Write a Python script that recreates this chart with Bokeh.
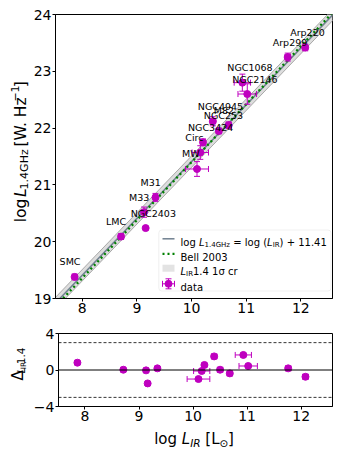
import math
import numpy as np
from bokeh.plotting import figure
from bokeh.layouts import column, row
from bokeh.models import BoxAnnotation, Span, Range1d
from bokeh.embed import file_html
from bokeh.resources import INLINE
from bokeh.core.properties import value

# ---------------- data ----------------
names = ["SMC", "LMC", "M33", "NGC2403", "M31", "MW", "Circ", "NGC3424",
         "NGC4945", "NGC253", "M82", "NGC1068", "NGC2146", "Arp299", "Arp220"]
log_lir = [7.86, 8.71, 9.13, 9.16, 9.34, 10.10, 10.16, 10.21,
           10.39, 10.50, 10.68, 10.93, 11.02, 11.76, 12.08]
log_l14 = [19.38, 20.09, 20.52, 20.24, 20.78, 21.28, 21.57, 21.75,
           22.12, 21.95, 22.05, 22.80, 22.60, 23.25, 23.42]
lir_err = [0.04, 0.04, 0.04, 0.03, 0.04, 0.21, 0.15, 0.04,
           0.05, 0.05, 0.05, 0.15, 0.17, 0.05, 0.05]
l14_err = [0.05, 0.05, 0.09, 0.03, 0.07, 0.13, 0.12, 0.06,
           0.08, 0.05, 0.06, 0.15, 0.18, 0.07, 0.06]
delta = [0.80, 0.03, -0.04, -1.47, 0.18, -0.99, -0.11, 0.55,
         1.49, 0.03, -0.37, 1.65, 0.44, 0.18, -0.74]
delta_err = [0.2] * 15

fit_offset = 11.41
bell_slope = 1.02
bell_pivot = (10.0, 21.40)
band_sigma = 0.10
xticks = [8, 9, 10, 11, 12]
yticks_top = [19, 20, 21, 22, 23, 24]
yticks_bot = [-4, 0, 4]
crit_level = 3

MAG = "#bf00bf"
FONT = "DejaVu Sans"

# ---------------- geometry (page pixels) ----------------
LW = 30            # width of the y-label strips
BL, BR = 25, 1     # plot borders (left border is after the label strip)
FW = 277
H1, BT1, BB1 = 322, 14, 24
H2, BT2, BB2 = 105, 11, 21
HX = 24
X0, X1 = 7.51, 12.58
YT0, YT1 = 19, 24
YB0, YB1 = -4, 4
FL = LW + BL                  # frame left on page
FH1 = H1 - BT1 - BB1


def fx(px):
    return X0 + (px - FL) / FW * (X1 - X0)


def ty(py):
    return YT1 - (py - BT1) / FH1 * (YT1 - YT0)


CW = {' ': 0.318, '(': 0.390, ')': 0.390, '+': 0.838, '.': 0.318, '=': 0.838,
      '[': 0.390, ']': 0.390, '\u2212': 0.838, '\u0394': 0.684, '\u03c3': 0.634,
      '\u2299': 0.80, 'A': 0.684, 'B': 0.686, 'C': 0.698, 'G': 0.775, 'H': 0.752,
      'I': 0.295, 'L': 0.557, 'M': 0.863, 'N': 0.748, 'R': 0.695, 'S': 0.635,
      'W': 0.989, 'a': 0.613, 'c': 0.550, 'd': 0.635, 'e': 0.615, 'g': 0.635,
      'i': 0.278, 'l': 0.278, 'o': 0.612, 'r': 0.411, 't': 0.392, 'z': 0.525,
      'p': 0.635}
for d in "0123456789":
    CW[d] = 0.636


def tw(s, fs):
    return sum(CW.get(c, 0.6) for c in s) * fs


def put(f, x, y, t, s, st, angle=0.0, level="glyph"):
    f.text(x=[x], y=[y], text=[t], angle=angle, text_font=value(FONT),
           text_font_size=f"{s}px", text_font_style=st, text_align="left",
           text_baseline="alphabetic", text_color="black", level=level)


def rich_h(f, x_px, base_py, pieces, cx, cy, center=False, level="glyph"):
    """x_px, base_py: local pixels (y downward); cx, cy convert to data."""
    total = sum(tw(t, s) for t, s, _, _ in pieces)
    if center:
        x_px -= total / 2
    for t, s, dy, st in pieces:
        lead = len(t) - len(t.lstrip())
        put(f, cx(x_px + tw(t[:lead], s)), cy(base_py + dy), t.strip(), s, st,
            level=level)
        x_px += tw(t, s)


def rich_v(f, base_px, center_py, pieces, cx, cy):
    total = sum(tw(t, s) for t, s, _, _ in pieces)
    y_px = center_py + total / 2
    for t, s, dx, st in pieces:
        lead = len(t) - len(t.lstrip())
        put(f, cx(base_px + dx), cy(y_px - tw(t[:lead], s)), t.strip(), s, st,
            angle=math.pi / 2)
        y_px -= tw(t, s)


def textfig(w, h):
    f = figure(width=w, height=h, x_range=Range1d(0, w), y_range=Range1d(0, h),
               output_backend="svg", toolbar_location=None, min_border=0,
               x_axis_type=None, y_axis_type=None)
    f.outline_line_color = None
    return f


def style(p, xt, yt):
    p.xgrid.visible = False
    p.ygrid.visible = False
    p.outline_line_color = "black"
    p.outline_line_width = 1
    p.outline_line_alpha = 1
    p.xaxis.ticker = xt
    p.yaxis.ticker = yt
    for ax in (p.xaxis[0], p.yaxis[0]):
        ax.major_tick_in = 0
        ax.major_tick_out = 3
        ax.minor_tick_in = 0
        ax.minor_tick_out = 0
        ax.major_label_text_font = FONT
        ax.major_label_text_font_size = "14px"
        ax.major_label_text_color = "black"
        ax.major_label_standoff = 1
        ax.axis_line_color = "black"
        ax.major_tick_line_color = "black"


def errbars(p, x, y, xe, ye):
    x = np.array(x); y = np.array(y); xe = np.array(xe); ye = np.array(ye)
    p.segment(x0=x - xe, y0=y, x1=x + xe, y1=y, line_color=MAG, line_width=1)
    p.segment(x0=x, y0=y - ye, x1=x, y1=y + ye, line_color=MAG, line_width=1)
    p.scatter(x=np.concatenate([x - xe, x + xe]), y=np.concatenate([y, y]),
              marker="dash", angle=math.pi / 2, size=6, line_color=MAG, line_width=1)
    p.scatter(x=np.concatenate([x, x]), y=np.concatenate([y - ye, y + ye]),
              marker="dash", size=6, line_color=MAG, line_width=1)
    p.scatter(x=x, y=y, size=7, fill_color=MAG, line_color=MAG)


# ---------------- top panel ----------------
p1 = figure(width=BL + FW + BR, height=H1, x_range=Range1d(X0, X1),
            y_range=Range1d(YT0, YT1), output_backend="svg", toolbar_location=None,
            min_border_left=BL, min_border_right=BR,
            min_border_top=BT1, min_border_bottom=BB1)
style(p1, xticks, yticks_top)

bx = np.array([X0 - 0.3, X1 + 0.3])
p1.varea(x=bx, y1=bx + fit_offset - band_sigma, y2=bx + fit_offset + band_sigma,
         fill_color="#d4d4d4", fill_alpha=0.8)
p1.line(bx, bx + fit_offset - band_sigma, line_color="#a8a8a8", line_width=1)
p1.line(bx, bx + fit_offset + band_sigma, line_color="#a8a8a8", line_width=1)
p1.line(bx, bx + fit_offset, line_color="#708090", line_width=1.5)
p1.line(bx, bell_slope * (bx - bell_pivot[0]) + bell_pivot[1], line_color="#008000",
        line_width=2.3, line_dash="2 3")

errbars(p1, log_lir, log_l14, lir_err, l14_err)

p1.text(x=log_lir, y=log_l14, text=names, x_offset=-15, y_offset=-15,
        text_font=value(FONT), text_font_size="9.5px", text_align="left",
        text_baseline="middle", text_color="black")

# legend (page pixel positions converted to data)
p1.add_layout(BoxAnnotation(left=fx(158.3), right=fx(330.5), top=ty(229.5),
                            bottom=ty(290.5), fill_color="white", fill_alpha=0.8,
                            line_color="#cccccc", line_width=1, border_radius=3))
rows = [238.3, 253.3, 267.7, 283.3]
hx0, hx1, hxc = 162, 174, 168
p1.line([fx(hx0), fx(hx1)], [ty(rows[0])] * 2, line_color="#708090", line_width=1.5,
        level="overlay")
p1.line([fx(hx0), fx(hx1)], [ty(rows[1])] * 2, line_color="#008000", line_width=2.3,
        line_dash="2 3", level="overlay")
p1.quad(left=fx(hx0), right=fx(hx1), top=ty(rows[2] - 3.5), bottom=ty(rows[2] + 3.5),
        fill_color="#e3e3e3", line_color=None, level="overlay")
p1.segment(x0=[fx(hxc - 6), fx(hxc)], y0=[ty(rows[3]), ty(rows[3] - 5)],
           x1=[fx(hxc + 6), fx(hxc)], y1=[ty(rows[3]), ty(rows[3] + 5)],
           line_color=MAG, line_width=1, level="overlay")
p1.scatter(x=[fx(hxc)] * 2, y=[ty(rows[3] - 5), ty(rows[3] + 5)], marker="dash",
           size=6, line_color=MAG, level="overlay")
p1.scatter(x=[fx(hxc - 6), fx(hxc + 6)], y=[ty(rows[3])] * 2, marker="dash",
           angle=math.pi / 2, size=6, line_color=MAG, level="overlay")
p1.scatter(x=[fx(hxc)], y=[ty(rows[3])], size=7, fill_color=MAG, line_color=MAG,
           level="overlay")

LF = 10
SF = 7
for r, pcs in zip(rows, [
        [("log ", LF, 0, "normal"), ("L", LF, 0, "italic"),
         ("1.4GHz", SF, 2.5, "normal"), (" = log (", LF, 0, "normal"),
         ("L", LF, 0, "italic"), ("IR", SF, 2.5, "normal"),
         (") + 11.41", LF, 0, "normal")],
        [("Bell 2003", LF, 0, "normal")],
        [("L", LF, 0, "italic"), ("IR", SF, 2.5, "normal"),
         ("1.4 1\u03c3 cr", LF, 0, "normal")],
        [("data", LF, 0, "normal")]]):
    rich_h(p1, 180, r + 3.5, pcs, fx, ty, level="overlay")

# y label strip (top)
yl1 = textfig(LW, H1)
rich_v(yl1, 20, 156, [("log ", 15.5, 0, "normal"), ("L", 15.5, 0, "italic"),
                      ("1.4GHz ", 11, 3.5, "normal"), (" [W. Hz", 15.5, 0, "normal"),
                      ("\u22121", 11, -6, "normal"), ("]", 15.5, 0, "normal")],
       lambda v: v, lambda v: H1 - v)

# ---------------- bottom panel ----------------
p2 = figure(width=BL + FW + BR, height=H2, x_range=p1.x_range,
            y_range=Range1d(YB0, YB1), output_backend="svg", toolbar_location=None,
            min_border_left=BL, min_border_right=BR,
            min_border_top=BT2, min_border_bottom=BB2)
style(p2, xticks, yticks_bot)
p2.yaxis.major_label_overrides = {-4: "\u22124", 0: "0", 4: "4"}

p2.add_layout(Span(location=0, dimension="width", line_color="black", line_width=1))
p2.add_layout(Span(location=crit_level, dimension="width", line_color="black",
                   line_width=0.8, line_dash="3 2"))
p2.add_layout(Span(location=-crit_level, dimension="width", line_color="black",
                   line_width=0.8, line_dash="3 2"))

errbars(p2, log_lir, delta, lir_err, delta_err)

yl2 = textfig(LW, H2)
rich_v(yl2, 17, BT2 + 73 / 2, [("\u0394", 15, 0, "normal"), ("L", 10.5, 3, "italic"),
                               ("IR", 7.5, 5.5, "normal"), ("1.4", 10.5, 3, "normal")],
       lambda v: v, lambda v: H2 - v)

xl = textfig(LW + BL + FW + BR, HX)
rich_h(xl, FL + FW / 2, 11.5, [("log ", 15, 0, "normal"), ("L", 15, 0, "italic"),
                               ("IR", 10.5, 3.5, "italic"), (" [L", 15, 0, "normal"),
                               ("\u2299", 10.5, 3.5, "normal"), ("]", 15, 0, "normal")],
       lambda v: v, lambda v: HX - v, center=True)

layout = column(row(yl1, p1), row(yl2, p2), xl)
open("out.html", "w").write(file_html(layout, INLINE))
